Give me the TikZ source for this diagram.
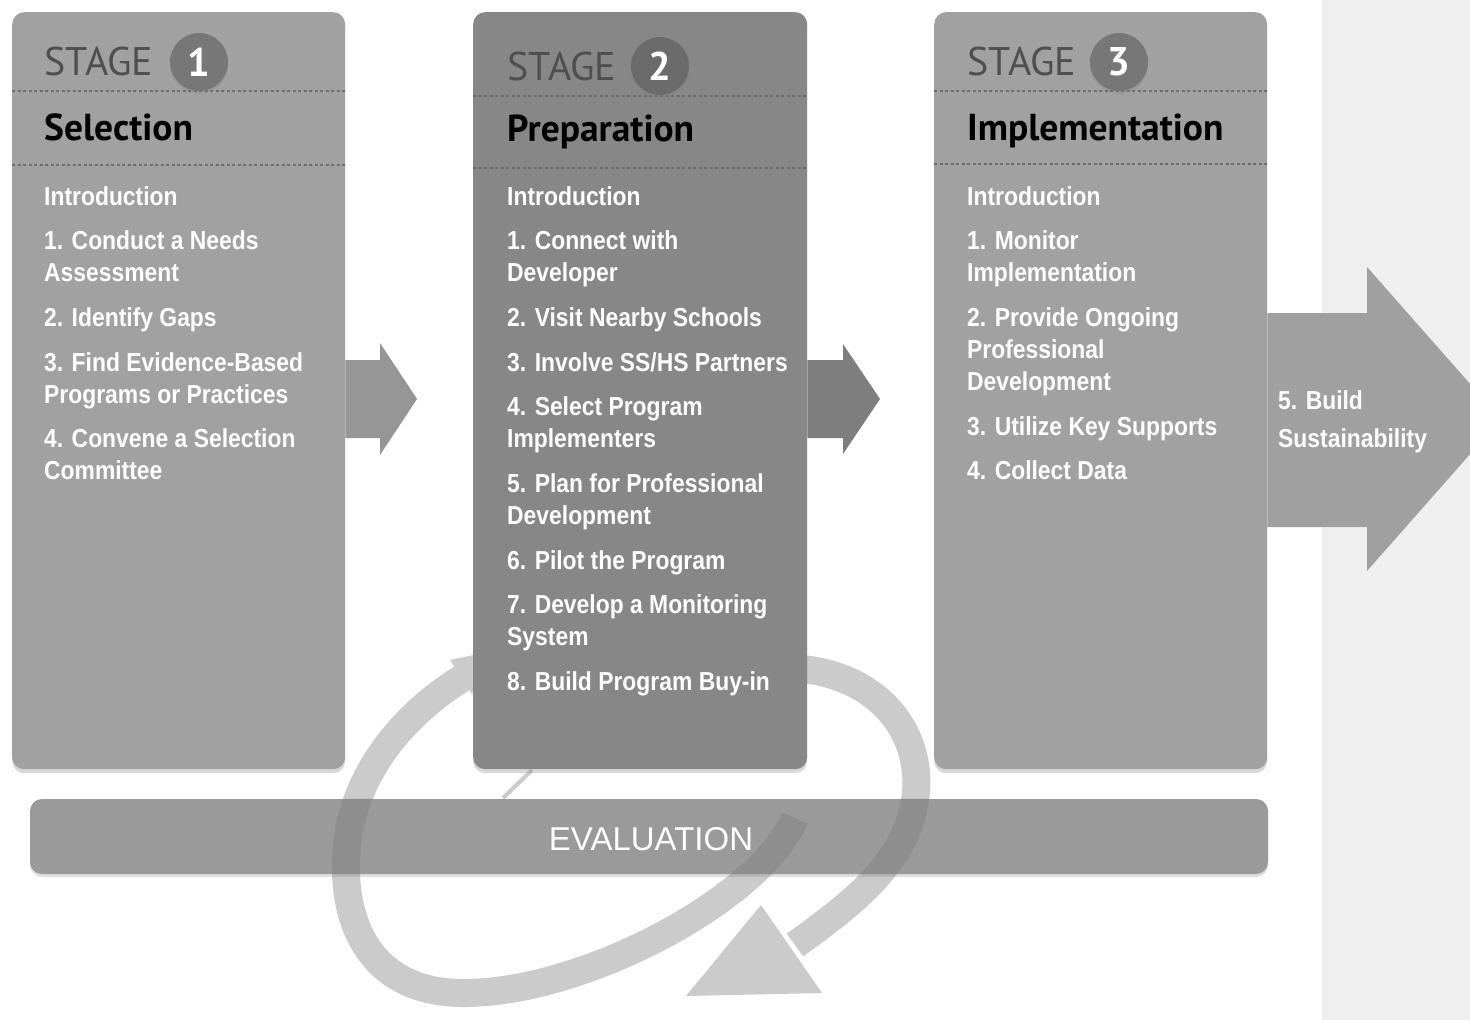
\documentclass[tikz,border=0pt]{standalone}
\usepackage{fontspec}
\setmainfont{Liberation Sans}
\newfontfamily\itemfont[FakeStretch=0.88]{Liberation Sans}
\newfontfamily\headfont{PT Sans}
\usetikzlibrary{shadows, positioning}

\definecolor{panellight}{HTML}{A1A1A1}
\definecolor{paneldark}{HTML}{878787}
\definecolor{arrowone}{HTML}{969696}
\definecolor{arrowtwo}{HTML}{7E7E7E}
\definecolor{bigarrow}{HTML}{A0A0A0}
\definecolor{barfill}{HTML}{9A9A9A}
\definecolor{loopgray}{HTML}{CBCBCB}
\definecolor{loopdark}{HTML}{8E8E8E}
\definecolor{sidegray}{HTML}{EFEFEF}
\definecolor{stagegray}{HTML}{4F4F4F}
\definecolor{numgray}{HTML}{777777}
\definecolor{dotgray}{HTML}{6C6C6C}

\tikzset{
  panel/.style={draw=none, rounded corners=12pt, minimum width=333pt, minimum height=757pt,
    anchor=north west, inner sep=0pt, drop shadow={opacity=0.3, shadow xshift=0pt, shadow yshift=-4pt}},
  stagelabel/.style={anchor=base west, inner sep=0pt, text=stagegray, font=\headfont\fontsize{40}{40}\selectfont},
  stagenum/.style={circle, fill=numgray, minimum size=58pt, inner sep=0pt, text=white,
    font=\headfont\bfseries\fontsize{40}{40}\selectfont, drop shadow={opacity=0.25, shadow xshift=0pt, shadow yshift=-3pt}},
  title/.style={anchor=base west, inner sep=0pt, text=black, font=\headfont\bfseries\fontsize{37.5}{37.5}\selectfont},
  item/.style={anchor=base west, inner sep=0pt, text=white, font=\itemfont\bfseries\fontsize{26}{26}\selectfont},
  dotline/.style={draw=dotgray, line width=1.2pt, dash pattern=on 3pt off 2.5pt},
  loopband/.style={draw=loopgray, line width=28pt},
  evalbar/.style={fill=barfill, rounded corners=12pt, minimum width=1238pt, minimum height=75pt, inner sep=0pt,
    drop shadow={opacity=0.25, shadow xshift=0pt, shadow yshift=-3pt}},
}

% the evaluation cycle, drawn twice (plain and seen through the bar)
\newcommand{\evalloop}[1]{%
  \draw[loopband, draw=#1] (795,818) .. controls (760,900) and (580,995) .. (460,993)
    .. controls (365,991) and (340,915) .. (347,845) .. controls (354,770) and (410,705) .. (480,668);
  \fill[#1] (450,660) -- (488,652) -- (472,694) -- cycle;
  \draw[draw=#1, line width=4pt] (503,798) -- (532,770);
  \draw[loopband, draw=#1] (790,668) .. controls (880,672) and (925,735) .. (915,800)
    .. controls (905,865) and (850,905) .. (795,945);
  \fill[#1] (761,905) -- (822,993) -- (686,996) -- cycle;
}

\begin{document}
\begin{tikzpicture}[x=1pt, y=-1pt]
\useasboundingbox (0,0) rectangle (1470,1020);
\fill[white] (0,0) rectangle (1470,1020);
\fill[sidegray] (1322,0) rectangle (1470,1020);

\evalloop{loopgray}

% stage panels
\node[panel, fill=panellight] (stage1) at (12,12) {};
\node[panel, fill=paneldark, minimum width=334pt] (stage2) at (473,12) {};
\node[panel, fill=panellight] (stage3) at (934,12) {};

\draw[dotline] (stage1.west |- 0,91) -- (stage1.east |- 0,91);
\draw[dotline] (stage1.west |- 0,165) -- (stage1.east |- 0,165);
\draw[dotline] (stage2.west |- 0,96) -- (stage2.east |- 0,96);
\draw[dotline] (stage2.west |- 0,168) -- (stage2.east |- 0,168);
\draw[dotline] (stage3.west |- 0,91) -- (stage3.east |- 0,91);
\draw[dotline] (stage3.west |- 0,164) -- (stage3.east |- 0,164);

% arrows between the stages
\fill[arrowone] (stage1.east |- 0,360) -- (380,360) -- (380,343) -- (417,399) -- (380,455) -- (380,438) -- (stage1.east |- 0,438) -- cycle;
\fill[arrowtwo] (stage2.east |- 0,360) -- (843,360) -- (843,344) -- (880,399) -- (843,454) -- (843,438) -- (stage2.east |- 0,438) -- cycle;
\fill[bigarrow] (stage3.east |- 0,313) -- (1367,313) -- (1367,267) -- (1501,419) -- (1367,571) -- (1367,527) -- (stage3.east |- 0,527) -- cycle;

% evaluation bar
\node[evalbar] (evaluation) at (649,836.5) {};
\begin{scope}
\clip[rounded corners=12pt] (evaluation.north west) rectangle (evaluation.south east);
\evalloop{loopdark}
\end{scope}
\node[text=white, font=\fontsize{33}{33}\selectfont] (evaltext) at (651,839) {EVALUATION};

% stage 1
\node[stagelabel] (s1stage) at (44,75) {STAGE};
\node[stagenum] (s1num) at (199,62) {1};
\node[title] (s1title) at (44,140) {Selection};
\node[item] (s1intro) at (44,205) {Introduction};
\node[item] (s1a) at (44,249) {1. Conduct a Needs};
\node[item] (s1a2) at (44,281) {Assessment};
\node[item] (s1b) at (44,326) {2. Identify Gaps};
\node[item] (s1c) at (44,371) {3. Find Evidence-Based};
\node[item] (s1c2) at (44,403) {Programs or Practices};
\node[item] (s1d) at (44,447) {4. Convene a Selection};
\node[item] (s1d2) at (44,479) {Committee};

% stage 2
\node[stagelabel] (s2stage) at (507,80) {STAGE};
\node[stagenum, fill=numgray!90!black] (s2num) at (660,66) {2};
\node[title] (s2title) at (507,141) {Preparation};
\node[item] (s2intro) at (507,205) {Introduction};
\node[item] (s2a) at (507,249) {1. Connect with};
\node[item] (s2a2) at (507,281) {Developer};
\node[item] (s2b) at (507,326) {2. Visit Nearby Schools};
\node[item] (s2c) at (507,371) {3. Involve SS/HS Partners};
\node[item] (s2d) at (507,415) {4. Select Program};
\node[item] (s2d2) at (507,447) {Implementers};
\node[item] (s2e) at (507,492) {5. Plan for Professional};
\node[item] (s2e2) at (507,524) {Development};
\node[item] (s2f) at (507,569) {6. Pilot the Program};
\node[item] (s2g) at (507,613) {7. Develop a Monitoring};
\node[item] (s2g2) at (507,645) {System};
\node[item] (s2h) at (507,690) {8. Build Program Buy-in};

% stage 3
\node[stagelabel] (s3stage) at (967,75) {STAGE};
\node[stagenum] (s3num) at (1119,62) {3};
\node[title] (s3title) at (967,140) {Implementation};
\node[item] (s3intro) at (967,205) {Introduction};
\node[item] (s3a) at (967,249) {1. Monitor};
\node[item] (s3a2) at (967,281) {Implementation};
\node[item] (s3b) at (967,326) {2. Provide Ongoing};
\node[item] (s3b2) at (967,358) {Professional};
\node[item] (s3b3) at (967,390) {Development};
\node[item] (s3c) at (967,435) {3. Utilize Key Supports};
\node[item] (s3d) at (967,479) {4. Collect Data};

% sustainability
\node[item] (sust) at (1278,409) {5. Build};
\node[item] (sust2) at (1278,447) {Sustainability};

\end{tikzpicture}
\end{document}
